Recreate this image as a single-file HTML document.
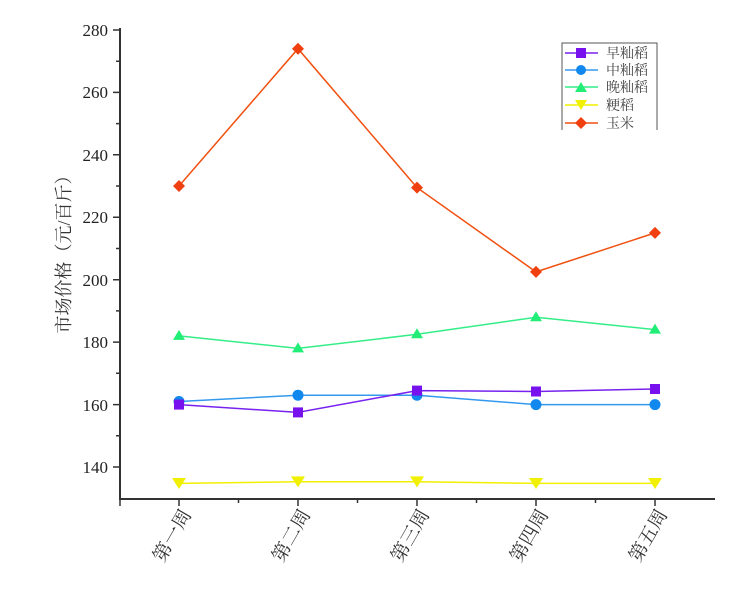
<!DOCTYPE html>
<html><head><meta charset="utf-8"><style>body{margin:0;background:#fff}</style></head><body>
<svg width="750" height="608" xmlns="http://www.w3.org/2000/svg" font-family="Liberation Serif, Noto Serif CJK SC, serif">
<rect width="750" height="608" fill="#fff"/>
<g stroke="#333" stroke-width="2" fill="none">
<path d="M120,28 V499 H715"/>
</g>
<g stroke="#333" stroke-width="1.5">
<path d="M113,30H120M113,92.4H120M113,154.8H120M113,217.3H120M113,279.7H120M113,342.1H120M113,404.6H120M113,467H120"/>
<path d="M116,61.2H120M116,123.6H120M116,186H120M116,248.5H120M116,310.9H120M116,373.3H120M116,435.8H120"/>
<path d="M179,499V506M298,499V506M417,499V506M536,499V506M655,499V506M238.5,499V503M357.5,499V503M476.5,499V503M595.5,499V503M120,499V506"/>
</g>
<g font-size="17" fill="#222" text-anchor="end">
<text x="108" y="36">280</text><text x="108" y="98">260</text><text x="108" y="161">240</text><text x="108" y="223">220</text><text x="108" y="286">200</text><text x="108" y="348">180</text><text x="108" y="411">160</text><text x="108" y="473">140</text>
</g>
<text transform="translate(70,250) rotate(-90)" text-anchor="middle" font-size="18" fill="#333">市场价格（元/百斤）</text>
<g font-size="19" fill="#333" text-anchor="end">
<text transform="translate(192,514) rotate(-60)">第一周</text>
<text transform="translate(311,514) rotate(-60)">第二周</text>
<text transform="translate(430,514) rotate(-60)">第三周</text>
<text transform="translate(549,514) rotate(-60)">第四周</text>
<text transform="translate(668,514) rotate(-60)">第五周</text>
</g>
<g fill="none" stroke-width="1.5">
<polyline stroke="#f0f000" points="179,483.4 298,481.8 417,481.8 536,483.4 655,483.4"/>
<polyline stroke="#3399ee" points="179,401.5 298,395.2 417,395.2 536,404.6 655,404.6"/>
<polyline stroke="#7722ee" points="179,404.6 298,412.4 417,390.6 536,391.5 655,389"/>
<polyline stroke="#33ee88" points="179,335.9 298,348.4 417,334.3 536,317.2 655,329.6"/>
<polyline stroke="#f05010" points="179,186 298,48.7 417,187.6 536,271.9 655,232.9"/>
</g>
<g fill="#f0f000"><path d="M172,478h14l-7,11z M291,476.4h14l-7,11z M410,476.4h14l-7,11z M529,478h14l-7,11z M648,478h14l-7,11z"/></g>
<g fill="#1188ee"><circle cx="179" cy="401.5" r="5.5"/><circle cx="298" cy="395.2" r="5.5"/><circle cx="417" cy="395.2" r="5.5"/><circle cx="536" cy="404.6" r="5.5"/><circle cx="655" cy="404.6" r="5.5"/></g>
<g fill="#7711ee"><rect x="174" y="399.6" width="10" height="10"/><rect x="293" y="407.4" width="10" height="10"/><rect x="412" y="385.6" width="10" height="10"/><rect x="531" y="386.5" width="10" height="10"/><rect x="650" y="384" width="10" height="10"/></g>
<g fill="#22ee77"><path d="M179,329.9l6,10h-12z M298,342.4l6,10h-12z M417,328.3l6,10h-12z M536,311.2l6,10h-12z M655,323.6l6,10h-12z"/></g>
<g fill="#f04010"><path d="M179,180l6,6-6,6-6-6z M298,42.7l6,6-6,6-6-6z M417,181.6l6,6-6,6-6-6z M536,265.9l6,6-6,6-6-6z M655,226.9l6,6-6,6-6-6z"/></g>
<path d="M562,130V43H657V130" fill="none" stroke="#555" stroke-width="1"/>
<g stroke-width="1.5">
<line x1="565" y1="53" x2="598" y2="53" stroke="#7722ee"/><rect x="576" y="48" width="10" height="10" fill="#7711ee"/>
<line x1="565" y1="70" x2="598" y2="70" stroke="#3399ee"/><circle cx="581" cy="70" r="5" fill="#1188ee"/>
<line x1="565" y1="87" x2="598" y2="87" stroke="#33ee88"/><path d="M581,82l6,10h-12z" fill="#22ee77"/>
<line x1="565" y1="105" x2="598" y2="105" stroke="#f0f000"/><path d="M575,100h12l-6,10z" fill="#f0f000"/>
<line x1="565" y1="123" x2="598" y2="123" stroke="#f05010"/><path d="M581,117l6,6-6,6-6-6z" fill="#f04010"/>
</g>
<g font-size="14" fill="#444">
<text x="606" y="58">早籼稻</text><text x="606" y="75">中籼稻</text><text x="606" y="92">晚籼稻</text><text x="606" y="110">粳稻</text><text x="606" y="128">玉米</text>
</g>
</svg>
</body></html>
